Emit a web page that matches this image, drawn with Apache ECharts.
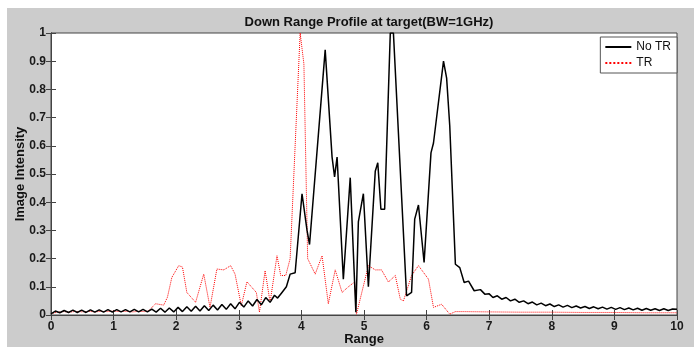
<!DOCTYPE html>
<html>
<head>
<meta charset="utf-8">
<script src="https://cdn.jsdelivr.net/npm/echarts@6/dist/echarts.min.js"></script>
<style>
  html, body { margin: 0; padding: 0; background: #fff; }
  #chart { width: 694px; height: 350px; }
</style>
</head>
<body>
<div id="chart"></div>
<script>
var xTicks = [0, 1, 2, 3, 4, 5, 6, 7, 8, 9, 10]
var yTicks = [0, 0.1, 0.2, 0.3, 0.4, 0.5, 0.6, 0.7, 0.8, 0.9, 1]

// "No TR" curve as [range, intensity]
var noTr = [
  [0, 0.004], [0.07, 0.014], [0.14, 0.008], [0.21, 0.016], [0.28, 0.009], [0.35, 0.017],
  [0.42, 0.009], [0.49, 0.017], [0.56, 0.009], [0.63, 0.018], [0.7, 0.01], [0.77, 0.018],
  [0.84, 0.01], [0.91, 0.019], [0.98, 0.01], [1.05, 0.019], [1.12, 0.011], [1.19, 0.019],
  [1.26, 0.011], [1.33, 0.02], [1.4, 0.011], [1.47, 0.02], [1.54, 0.011], [1.61, 0.021],
  [1.68, 0.01], [1.75, 0.024], [1.82, 0.01], [1.89, 0.025], [1.96, 0.011], [2.03, 0.027],
  [2.1, 0.012], [2.17, 0.029], [2.24, 0.013], [2.31, 0.031], [2.38, 0.014], [2.45, 0.033],
  [2.52, 0.016], [2.59, 0.035], [2.66, 0.018], [2.73, 0.037], [2.8, 0.02], [2.87, 0.04],
  [2.94, 0.022], [3.01, 0.045], [3.08, 0.028], [3.15, 0.05], [3.22, 0.032], [3.29, 0.055],
  [3.36, 0.036], [3.43, 0.062], [3.5, 0.045], [3.57, 0.07], [3.62, 0.06], [3.69, 0.08],
  [3.76, 0.1], [3.82, 0.145], [3.9, 0.15], [4.01, 0.43], [4.09, 0.3], [4.13, 0.25],
  [4.38, 0.94], [4.49, 0.56], [4.53, 0.49], [4.57, 0.56], [4.67, 0.127], [4.78, 0.487],
  [4.87, 0.01], [4.91, 0.33], [4.99, 0.43], [5.07, 0.1], [5.18, 0.51], [5.22, 0.54],
  [5.27, 0.375], [5.33, 0.375], [5.42, 1.0], [5.47, 1.0], [5.68, 0.068], [5.76, 0.08],
  [5.81, 0.34], [5.87, 0.39], [5.96, 0.186], [6.07, 0.575], [6.11, 0.61], [6.27, 0.9],
  [6.32, 0.84], [6.37, 0.67], [6.46, 0.18], [6.53, 0.168], [6.6, 0.115], [6.67, 0.12],
  [6.76, 0.086], [6.86, 0.09], [6.93, 0.074], [7.0, 0.075], [7.06, 0.062], [7.13, 0.068],
  [7.2, 0.056], [7.27, 0.062], [7.34, 0.05], [7.41, 0.056], [7.48, 0.045], [7.55, 0.05],
  [7.62, 0.04], [7.69, 0.046], [7.76, 0.036], [7.83, 0.042], [7.9, 0.033], [7.97, 0.039],
  [8.04, 0.03], [8.11, 0.036], [8.18, 0.028], [8.25, 0.034], [8.32, 0.026], [8.39, 0.032],
  [8.46, 0.025], [8.53, 0.03], [8.6, 0.023], [8.67, 0.029], [8.74, 0.022], [8.81, 0.028],
  [8.88, 0.021], [8.95, 0.027], [9.02, 0.02], [9.09, 0.026], [9.16, 0.019], [9.23, 0.025],
  [9.3, 0.018], [9.37, 0.024], [9.44, 0.017], [9.51, 0.023], [9.58, 0.017], [9.65, 0.022],
  [9.72, 0.016], [9.79, 0.022], [9.86, 0.016], [9.93, 0.021], [10, 0.02]
]

// "TR" curve
var tr = [
  [0, 0.005], [0.1, 0.01], [0.2, 0.012], [0.3, 0.01], [0.4, 0.013], [0.5, 0.011],
  [0.6, 0.013], [0.7, 0.011], [0.8, 0.013], [0.9, 0.012], [1.0, 0.014], [1.1, 0.012],
  [1.2, 0.013], [1.3, 0.011], [1.4, 0.013], [1.5, 0.012], [1.56, 0.015], [1.67, 0.04],
  [1.8, 0.035], [1.86, 0.063], [1.93, 0.133], [2.04, 0.175], [2.1, 0.17], [2.17, 0.08],
  [2.31, 0.045], [2.44, 0.145], [2.54, 0.027], [2.65, 0.163], [2.76, 0.16], [2.87, 0.175],
  [2.94, 0.145], [3.04, 0.033], [3.13, 0.118], [3.2, 0.1], [3.28, 0.08], [3.33, 0.01],
  [3.42, 0.157], [3.5, 0.045], [3.61, 0.21], [3.67, 0.14], [3.75, 0.14], [3.82, 0.2],
  [3.98, 1.0], [4.04, 0.89], [4.1, 0.2], [4.22, 0.145], [4.33, 0.21], [4.43, 0.04],
  [4.54, 0.16], [4.65, 0.08], [4.75, 0.1], [4.85, 0.117], [4.88, 0.003], [5.07, 0.175],
  [5.18, 0.16], [5.28, 0.16], [5.39, 0.117], [5.5, 0.14], [5.58, 0.056], [5.63, 0.05],
  [5.76, 0.14], [5.87, 0.175], [6.03, 0.127], [6.11, 0.027], [6.24, 0.038], [6.37, 0.003],
  [6.46, 0.012], [6.6, 0.012], [7.0, 0.011], [7.5, 0.01], [8.0, 0.01], [8.5, 0.009],
  [9.0, 0.009], [9.5, 0.008], [10, 0.008]
]

var chart = echarts.init(document.getElementById("chart"))

var labelFont = { color: "#1a1a1a", fontFamily: "Liberation Sans", fontSize: 12, fontWeight: "bold" }
var nameFont = { fontFamily: "Liberation Sans", fontSize: 13, fontWeight: "bold", color: "#111" }

var option = {
  backgroundColor: "#fff",
  animation: false,
  graphic: [
    {
      type: "rect",
      z: -10,
      shape: { x: 7, y: 8, width: 687, height: 339 },
      style: { fill: "#cccccc" }
    }
  ],
  title: {
    text: "Down Range Profile at target(BW=1GHz)",
    left: 364,
    textAlign: "center",
    top: 11,
    textStyle: nameFont
  },
  legend: {
    orient: "vertical",
    right: 17,
    top: 37,
    itemWidth: 26,
    itemHeight: 10,
    itemGap: 4,
    padding: [4, 6, 4, 4],
    backgroundColor: "#fff",
    borderColor: "#555",
    borderWidth: 1,
    borderRadius: 0,
    itemStyle: { opacity: 0 },
    textStyle: { fontFamily: "Liberation Sans", fontSize: 12, color: "#111" },
    data: ["No TR", "TR"]
  },
  grid: {
    left: 51,
    right: 17,
    top: 33,
    bottom: 35,
    outerBoundsMode: "none",
    containLabel: false,
    show: true,
    backgroundColor: "#fff",
    borderColor: "#444",
    borderWidth: 1
  },
  xAxis: [
    {
      type: "value",
      min: 0,
      max: 10,
      interval: 1,
      name: "Range",
      nameLocation: "middle",
      nameGap: 18,
      nameMoveOverlap: false,
      nameTextStyle: nameFont,
      axisLine: { lineStyle: { color: "#444" } },
      axisTick: { inside: true, length: 5, lineStyle: { color: "#444" } },
      axisLabel: Object.assign({ margin: 6, customValues: xTicks }, labelFont),
      splitLine: { show: false }
    },
    {
      type: "value",
      position: "top",
      min: 0,
      max: 10,
      interval: 1,
      axisLine: { lineStyle: { color: "#444" } },
      axisTick: { inside: true, length: 5, lineStyle: { color: "#444" } },
      axisLabel: { show: false },
      splitLine: { show: false }
    }
  ],
  yAxis: [
    {
      type: "value",
      min: 0,
      max: 1,
      interval: 0.1,
      name: "Image Intensity",
      nameLocation: "middle",
      nameGap: 24,
      nameMoveOverlap: false,
      nameTextStyle: nameFont,
      axisLine: { lineStyle: { color: "#444" } },
      axisTick: { inside: true, length: 5, lineStyle: { color: "#444" } },
      axisLabel: Object.assign({ margin: 5, customValues: yTicks }, labelFont),
      splitLine: { show: false }
    },
    {
      type: "value",
      position: "right",
      min: 0,
      max: 1,
      interval: 0.1,
      axisLine: { lineStyle: { color: "#444" } },
      axisTick: { inside: true, length: 5, lineStyle: { color: "#444" } },
      axisLabel: { show: false },
      splitLine: { show: false }
    }
  ],
  series: [
    {
      name: "No TR",
      type: "line",
      data: noTr,
      symbol: "none",
      lineStyle: { color: "#000", width: 1.5 },
      itemStyle: { color: "#000" },
      z: 3
    },
    {
      name: "TR",
      type: "line",
      data: tr,
      symbol: "none",
      lineStyle: { color: "#ff0000", width: 1, type: "dotted" },
      itemStyle: { color: "#ff0000" },
      z: 2
    }
  ]
}

chart.setOption(option)
</script>
</body>
</html>
